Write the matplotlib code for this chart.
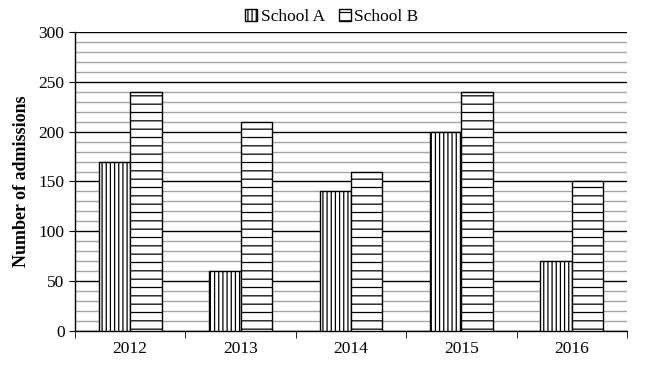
import matplotlib
matplotlib.use("Agg")
import matplotlib.pyplot as plt
import numpy as np

years = ["2012", "2013", "2014", "2015", "2016"]
school_a = [170, 60, 140, 200, 70]
school_b = [240, 210, 160, 240, 150]

plt.rcParams['font.family'] = ['Liberation Serif', 'DejaVu Serif']
plt.rcParams['hatch.linewidth'] = 0.9

fig = plt.figure(figsize=(6.48, 3.65), dpi=100)
ax = fig.add_axes([0.1157, 0.0932, 0.8519, 0.8191])

x = np.arange(len(years))
w = 0.285
ax.bar(x - w / 2, school_a, w, color='white', edgecolor='black', hatch='||||',
       linewidth=1, label='School A', zorder=3)
ax.bar(x + w / 2, school_b, w, color='white', edgecolor='black', hatch='--',
       linewidth=1, label='School B', zorder=3)

ax.set_xlim(-0.5, len(years) - 0.5)
ax.set_ylim(0, 300)
ax.set_yticks(np.arange(0, 301, 50))
ax.set_yticks(np.arange(0, 301, 10), minor=True)
ax.grid(axis='y', which='major', color='black', linewidth=1, zorder=0)
ax.grid(axis='y', which='minor', color='#a6a6a6', linewidth=1, zorder=0)
ax.tick_params(axis='y', which='minor', length=0)
ax.tick_params(axis='y', which='major', direction='out', length=4, labelsize=12.5)

ax.set_xticks(x)
ax.set_xticklabels(years, fontsize=12.5)
ax.tick_params(axis='x', which='major', length=0, pad=7)
ax.set_xticks(np.arange(-0.5, len(years)), minor=True)
ax.tick_params(axis='x', which='minor', direction='out', length=5)

for s in ['top', 'right']:
    ax.spines[s].set_visible(False)
ax.spines['left'].set_linewidth(1)
ax.spines['bottom'].set_linewidth(1)

ax.set_ylabel('Number of admissions', fontsize=13, fontweight='bold', labelpad=6)

ax.legend(loc='lower center', bbox_to_anchor=(0.465, 1.0), ncol=2, frameon=False,
          fontsize=12.5, handlelength=0.7, handleheight=0.7, handletextpad=0.2,
          columnspacing=0.8, borderaxespad=0.0)

fig.savefig('out.png', dpi=100)
